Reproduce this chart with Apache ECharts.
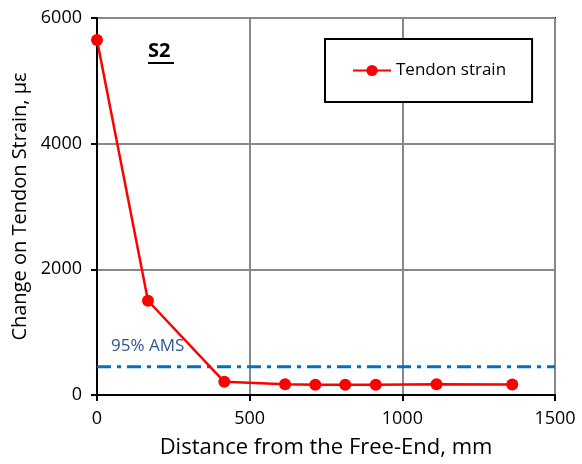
<!DOCTYPE html>
<html><head><meta charset="utf-8">
<script src="https://cdn.jsdelivr.net/npm/echarts@6/dist/echarts.min.js"></script>
<style>html,body{margin:0;padding:0;background:#fff}#c{width:582px;height:464px}</style>
</head><body><div id="c"></div>
<script>
const distance = [0, 167, 417, 616, 715, 813, 913, 1112, 1360];
const strain = [5650, 1500, 210, 170, 165, 165, 165, 170, 168];
const amsX = [0, 1500];
const amsY = [450, 450];
const xTicks = [0, 500, 1000, 1500];
const yTicks = [0, 2000, 4000, 6000];

const font = "'Open Sans', 'Liberation Sans', sans-serif";
const chart = echarts.init(document.getElementById('c'));
chart.setOption({
  animation: false,
  grid: {left: 97, top: 18, right: 27, bottom: 69, show: true, borderColor: '#000', borderWidth: 2, backgroundColor: 'transparent'},
  title: {text: 'S2', left: 148, top: 41, padding: 0, textStyle: {fontFamily: font, fontSize: 20, fontWeight: 'bold', color: '#000'}},
  graphic: [{type: 'rect', shape: {x: 148, y: 62, width: 26, height: 2}, style: {fill: '#000'}},
            {type: 'text', left: 111, top: 338, style: {text: '95% AMS', fontFamily: font, fontSize: 17, fill: '#2F5597'}}],
  legend: {
    data: ['Tendon strain'], left: 325, top: 39, orient: 'vertical',
    padding: [23, 26, 23, 27], itemWidth: 38, itemHeight: 14, itemGap: 0,
    borderColor: '#000', borderWidth: 2, backgroundColor: '#fff',
    textStyle: {fontFamily: font, fontSize: 17, color: '#000'}
  },
  xAxis: {
    type: 'value', min: 0, max: 1500, interval: 500,
    name: 'Distance from the Free-End, mm', nameLocation: 'middle', nameGap: 42,
    nameTextStyle: {fontFamily: font, fontSize: 22, color: '#000'},
    axisLine: {show: true, lineStyle: {color: '#000', width: 2}},
    axisTick: {show: true, inside: false, length: 6, lineStyle: {color: '#000', width: 2}},
    axisLabel: {fontFamily: font, fontSize: 18, color: '#000', margin: 15, formatter: v => xTicks.includes(v) ? String(v) : ''},
    splitLine: {show: true, lineStyle: {color: '#888', width: 2}}
  },
  yAxis: {
    type: 'value', min: 0, max: 6000, interval: 2000,
    name: 'Change on Tendon Strain, με', nameLocation: 'middle', nameGap: 60,
    nameTextStyle: {fontFamily: font, fontSize: 20, color: '#000'},
    axisLine: {show: true, lineStyle: {color: '#000', width: 2}},
    axisTick: {show: true, inside: false, length: 6, lineStyle: {color: '#000', width: 2}},
    axisLabel: {fontFamily: font, fontSize: 18, color: '#000', margin: 15, formatter: v => yTicks.includes(v) ? String(v) : ''},
    splitLine: {show: true, lineStyle: {color: '#888', width: 2}}
  },
  series: [
    {name: '95% AMS', type: 'line', data: amsX.map((x, i) => [x, amsY[i]]), symbol: 'none', silent: true,
     lineStyle: {color: '#0070C0', width: 3, type: [14, 6, 4, 6]}, z: 1},
    {name: 'Tendon strain', type: 'line', data: distance.map((x, i) => [x, strain[i]]),
     symbol: 'circle', symbolSize: 12, itemStyle: {color: '#FF0000'},
     lineStyle: {color: '#FF0000', width: 2.5}, z: 3}
  ]
});
</script></body></html>
